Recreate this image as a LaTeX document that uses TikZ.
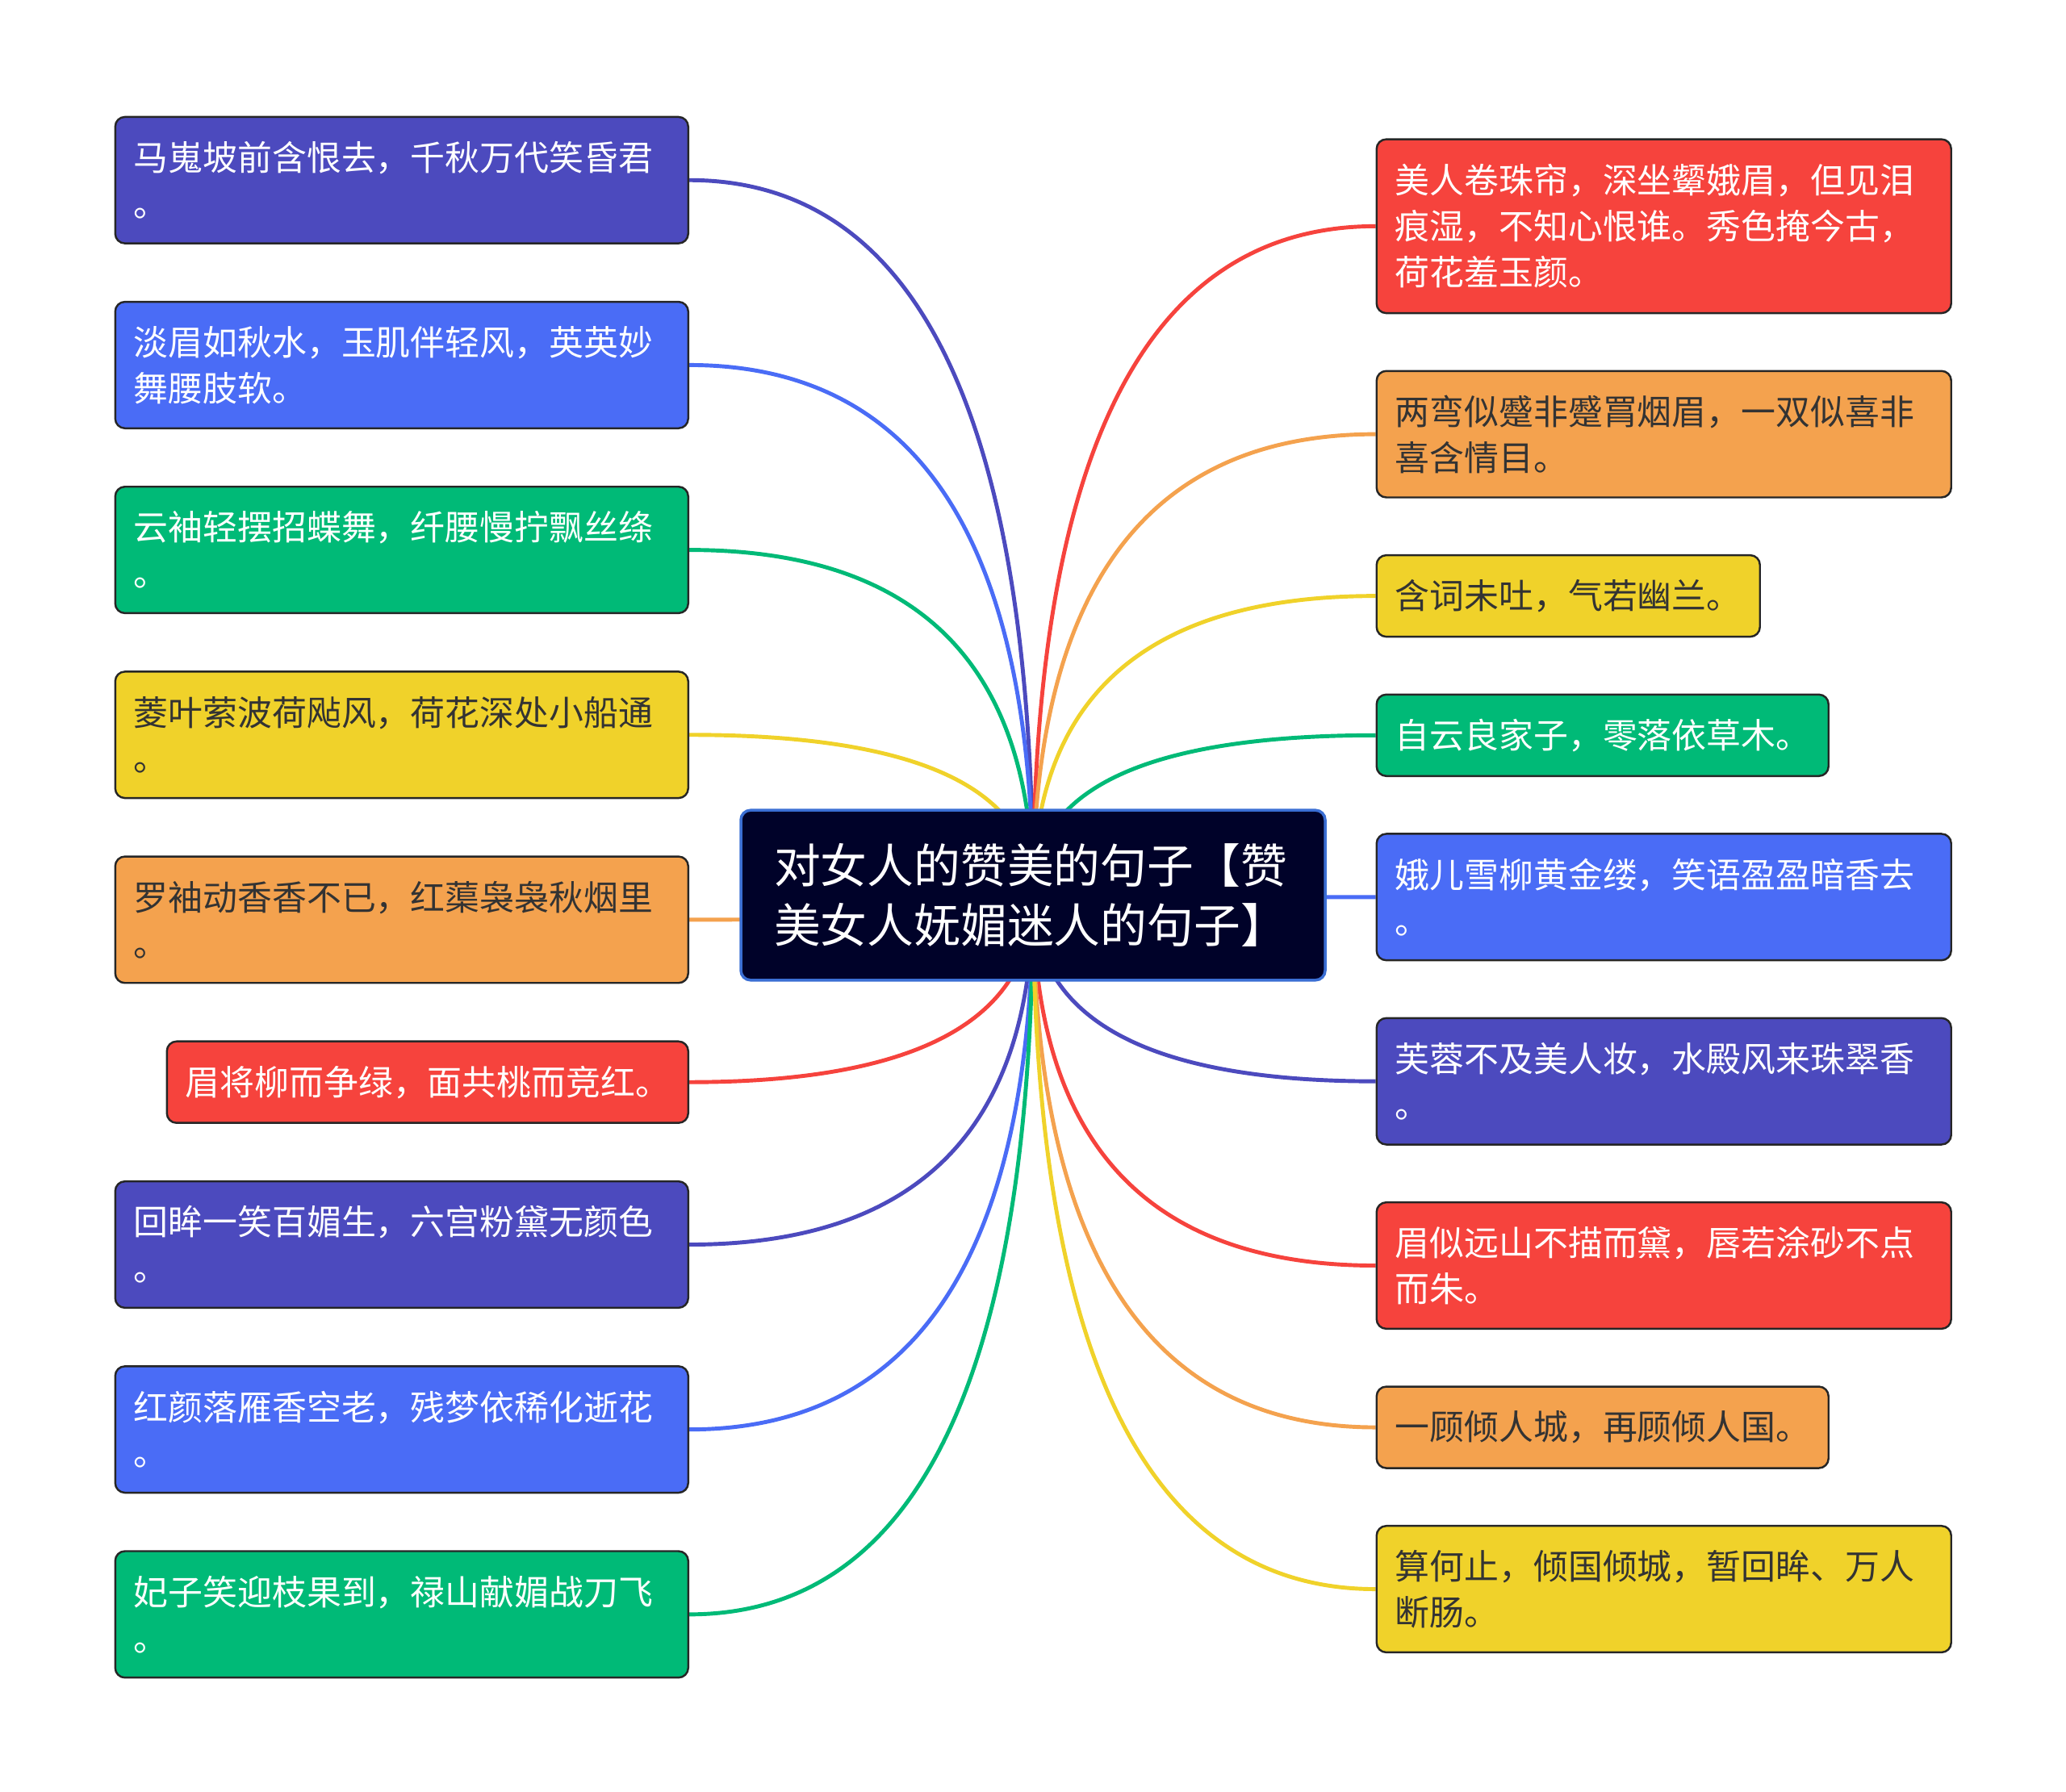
\documentclass[tikz,border=0pt]{standalone}
\usepackage{fontspec}
\setmainfont{Noto Sans CJK SC}
\usepackage{tikz}
\usetikzlibrary{positioning, calc, backgrounds}
\definecolor{mmindigo}{HTML}{4C4ABE}
\definecolor{mmblue}{HTML}{4A6CF6}
\definecolor{mmgreen}{HTML}{00BA77}
\definecolor{mmyellow}{HTML}{F0D22A}
\definecolor{mmorange}{HTML}{F4A24E}
\definecolor{mmred}{HTML}{F6433D}
\definecolor{mmnavy}{HTML}{000229}
\definecolor{mmedge}{HTML}{3B6FD4}
\definecolor{mmtext}{HTML}{333333}

\begin{document}
\begin{tikzpicture}[
    node distance=0.692cm,
    hub/.style={rectangle, rounded corners=0.12cm, fill=mmnavy, draw=mmedge, line width=1pt, text=white, text width=6.42cm, minimum width=7.24cm, minimum height=2.106cm, align=left, font=\fontsize{16.45}{20.9}\selectfont},
    leaf/.style={rectangle, rounded corners=0.12cm, draw=black!85, line width=0.7pt, inner xsep=0.23cm, inner ysep=0pt, align=left, font=\fontsize{12.2}{16.2}\selectfont},
    tone/.style 2 args={fill=#1, text=#2},
    lbox/.style={text width=6.64cm},
    rbox/.style={text width=6.66cm},
    one/.style={minimum height=1.01cm},
    two/.style={minimum height=1.567cm},
    three/.style={minimum height=2.155cm},
    link/.style={line width=1.4pt, draw=#1, to path={.. controls ($(\tikztostart)!2/3!(\tikztostart |- \tikztotarget)$) and ($(\tikztotarget)!2/3!(\tikztostart |- \tikztotarget)$) .. (\tikztotarget)}}
]
\useasboundingbox (0,0) rectangle (25.6,-22.21);

\node[hub] (hub) at (12.80,-11.095) {对女人的赞美的句子【赞\\美女人妩媚迷人的句子】};

% left side
\node[leaf, lbox, two, tone={mmindigo}{white}, anchor=north east] (m1) at (8.54,-1.437) {马嵬坡前含恨去，千秋万代笑昏君\\。};
\node[leaf, lbox, two, tone={mmblue}{white}, below=0.70cm of m1.south east, anchor=north east] (m2) {淡眉如秋水，玉肌伴轻风，英英妙\\舞腰肢软。};
\node[leaf, lbox, two, tone={mmgreen}{white}, below=0.70cm of m2.south east, anchor=north east] (m3) {云袖轻摆招蝶舞，纤腰慢拧飘丝绦\\。};
\node[leaf, lbox, two, tone={mmyellow}{mmtext}, below=0.70cm of m3.south east, anchor=north east] (m4) {菱叶萦波荷飐风，荷花深处小船通\\。};
\node[leaf, lbox, two, tone={mmorange}{mmtext}, below=0.70cm of m4.south east, anchor=north east] (m5) {罗袖动香香不已，红蕖袅袅秋烟里\\。};
\node[leaf, text width=6.0cm, one, tone={mmred}{white}, below=0.70cm of m5.south east, anchor=north east] (m6) {眉将柳而争绿，面共桃而竞红。};
\node[leaf, lbox, two, tone={mmindigo}{white}, below=0.70cm of m6.south east, anchor=north east] (m7) {回眸一笑百媚生，六宫粉黛无颜色\\。};
\node[leaf, lbox, two, tone={mmblue}{white}, below=0.70cm of m7.south east, anchor=north east] (m8) {红颜落雁香空老，残梦依稀化逝花\\。};
\node[leaf, lbox, two, tone={mmgreen}{white}, below=0.70cm of m8.south east, anchor=north east] (m9) {妃子笑迎枝果到，禄山献媚战刀飞\\。};

% right side
\node[leaf, rbox, three, tone={mmred}{white}, anchor=north west] (r1) at (17.045,-1.714) {美人卷珠帘，深坐颦娥眉，但见泪\\痕湿，不知心恨谁。秀色掩今古，\\荷花羞玉颜。};
\node[leaf, rbox, two, tone={mmorange}{mmtext}, below=of r1.south west, anchor=north west] (r2) {两弯似蹙非蹙罥烟眉，一双似喜非\\喜含情目。};
\node[leaf, text width=4.29cm, one, tone={mmyellow}{mmtext}, below=of r2.south west, anchor=north west] (r3) {含词未吐，气若幽兰。};
\node[leaf, text width=5.14cm, one, tone={mmgreen}{white}, below=of r3.south west, anchor=north west] (r4) {自云良家子，零落依草木。};
\node[leaf, rbox, two, tone={mmblue}{white}, below=of r4.south west, anchor=north west] (r5) {娥儿雪柳黄金缕，笑语盈盈暗香去\\。};
\node[leaf, rbox, two, tone={mmindigo}{white}, below=of r5.south west, anchor=north west] (r6) {芙蓉不及美人妆，水殿风来珠翠香\\。};
\node[leaf, rbox, two, tone={mmred}{white}, below=of r6.south west, anchor=north west] (r7) {眉似远山不描而黛，唇若涂砂不点\\而朱。};
\node[leaf, text width=5.14cm, one, tone={mmorange}{mmtext}, below=of r7.south west, anchor=north west] (r8) {一顾倾人城，再顾倾人国。};
\node[leaf, rbox, two, tone={mmyellow}{mmtext}, below=of r8.south west, anchor=north west] (r9) {算何止，倾国倾城，暂回眸、万人\\断肠。};

% branches, drawn behind the boxes
\begin{scope}[on background layer]
\draw[link=mmindigo] (hub.center) to (m1.east);
\draw[link=mmblue] (hub.center) to (m2.east);
\draw[link=mmgreen] (hub.center) to (m3.east);
\draw[link=mmyellow] (hub.center) to (m4.east);
\draw[link=mmorange] (hub.center) to (m5.east);
\draw[link=mmred] (hub.center) to (m6.east);
\draw[link=mmindigo] (hub.center) to (m7.east);
\draw[link=mmblue] (hub.center) to (m8.east);
\draw[link=mmgreen] (hub.center) to (m9.east);
\draw[link=mmred] (hub.center) to (r1.west);
\draw[link=mmorange] (hub.center) to (r2.west);
\draw[link=mmyellow] (hub.center) to (r3.west);
\draw[link=mmgreen] (hub.center) to (r4.west);
\draw[link=mmblue] (hub.center) to (r5.west);
\draw[link=mmindigo] (hub.center) to (r6.west);
\draw[link=mmred] (hub.center) to (r7.west);
\draw[link=mmorange] (hub.center) to (r8.west);
\draw[link=mmyellow] (hub.center) to (r9.west);
\end{scope}
\end{tikzpicture}
\end{document}
